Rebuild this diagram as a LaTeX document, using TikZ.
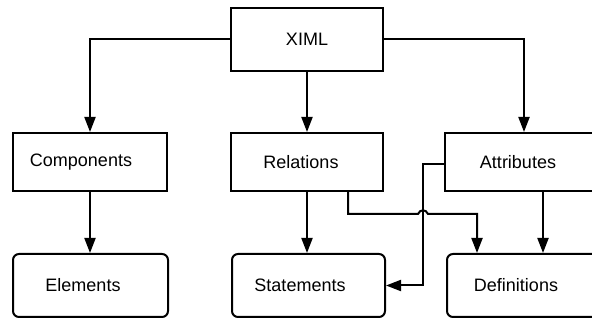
\documentclass[tikz,border=0pt]{standalone}
\usepackage{fontspec}
\setmainfont{Liberation Sans}
\usetikzlibrary{arrows.meta,calc}
\begin{document}
\begin{tikzpicture}[x=1pt,y=-1pt,
  box/.style={draw,line width=2pt,inner sep=0pt},
  roundbox/.style={box,rounded corners=6pt},
  txt/.style={font=\fontsize{18}{20}\selectfont,inner sep=0pt},
  conn/.style={line width=2pt,-{Triangle[length=15pt,width=11pt]}}]
\useasboundingbox (0,0) rectangle (592,320);
\clip (0,0) rectangle (592,320);

% top level
\node[box,minimum width=152,minimum height=63,
  label={[txt]center:XIML}] (ximl) at (307,39.5) {};

% middle row
\node[box,minimum width=154,minimum height=58,
  label={[txt,xshift=-9pt]center:Components}] (comp) at (90,162) {};
\node[box,minimum width=152,minimum height=58,
  label={[txt,xshift=-6pt]center:Relations}] (rel) at (307,162) {};
\node[box,minimum width=158,minimum height=58,
  label={[txt,xshift=-6pt]center:Attributes}] (attr) at (524,162) {};

% bottom row
\node[roundbox,minimum width=155,minimum height=63,
  label={[txt,xshift=-7.5pt]center:Elements}] (elem) at (90.5,285.5) {};
\node[roundbox,minimum width=153,minimum height=63,
  label={[txt,xshift=-8.5pt]center:Statements}] (stat) at (308.5,285.5) {};
\node[roundbox,minimum width=155,minimum height=63,
  label={[txt,xshift=-8.5pt]center:Definitions}] (defs) at (524.5,285.5) {};

% bend points of the routed connectors
\coordinate (rdrop) at (348,214);
\coordinate (bl) at (418,214);
\coordinate (br) at (428,214);
\coordinate (defin) at (477,0);
\coordinate (vx) at (423,164);
\coordinate (ad) at (543,0);

% connectors
\draw[conn] (ximl.west) -| (comp.north);
\draw[conn] (ximl.east) -| (attr.north);
\draw[conn] (ximl.south) -- (rel.north);
\draw[conn] (comp.south) -- (comp.south |- elem.north);
\draw[conn] (rel.south) -- (rel.south |- stat.north);
\draw[conn] (rdrop |- rel.south) -- (rdrop) -- (bl)
  .. controls ($(bl)+(2,-5)$) and ($(br)+(-2,-5)$) .. (br)
  -| (defin |- defs.north);
\draw[conn] (attr.west |- vx) -- (vx) |- (stat.east);
\draw[conn] (ad |- attr.south) -- (ad |- defs.north);
\end{tikzpicture}
\end{document}
